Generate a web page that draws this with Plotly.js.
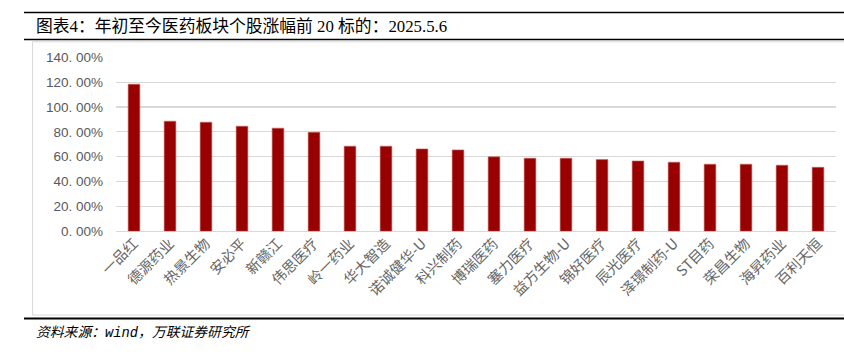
<!DOCTYPE html>
<html>
<head>
<meta charset="utf-8">
<script src="https://cdn.plot.ly/plotly-3.0.1.min.js"></script>
<style>html,body{margin:0;padding:0;background:#fff;}#chart{width:844px;height:357px;}</style>
</head>
<body>
<div id="chart"></div>
<script>
const categories = ["一品红","德源药业","热景生物","安必平","新赣江","伟思医疗","岭一药业","华大智造","诺诚健华-U","科兴制药","博瑞医药","塞力医疗","益方生物-U","锦好医疗","辰光医疗","泽璟制药-U","ST目药","荣昌生物","海昇药业","百利天恒"];
const gains = [118.4, 88.6, 87.8, 84.6, 83.0, 79.7, 68.5, 68.5, 66.3, 65.5, 59.9, 58.8, 58.8, 57.7, 56.6, 55.6, 54.0, 54.0, 53.2, 51.5];
const yTickVals = [0, 20, 40, 60, 80, 100, 120, 140];
const yTickText = ["0. 00%","20. 00%","40. 00%","60. 00%","80. 00%","100. 00%","120. 00%","140. 00%"];
const titleText = "图表4：年初至今医药板块个股涨幅前 20 标的：2025.5.6";
const sourceText = "资料来源：wind，万联证券研究所";

const W = 844, H = 357;
const px = x => x / W;
const py = y => 1 - y / H;

const trace = {
  type: 'bar',
  x: categories,
  y: gains,
  marker: {color: '#990000', line: {color: '#c46a6a', width: 0.6}},
  hoverinfo: 'skip'
};

const layout = {
  width: W, height: H,
  margin: {l: 0, r: 0, t: 0, b: 0},
  paper_bgcolor: '#fff', plot_bgcolor: '#fff',
  showlegend: false,
  bargap: 0.675,
  font: {family: '"Noto Sans CJK SC", "Liberation Sans", sans-serif', color: '#595959'},
  xaxis: {
    domain: [px(116), px(836)],
    automargin: false,
    tickangle: -45,
    tickfont: {size: 14.5, color: '#666666', family: '"Noto Sans CJK SC", sans-serif'},
    showgrid: false, zeroline: false, showline: false, ticks: ''
  },
  yaxis: {
    domain: [py(231.3), py(57.3)],
    automargin: false,
    range: [0, 140],
    tickvals: yTickVals,
    ticktext: yTickText,
    tickfont: {size: 13.5, color: '#595959', family: '"Liberation Sans", "Noto Sans CJK SC", sans-serif'},
    showgrid: true, gridcolor: '#d9d9d9', gridwidth: 1.2,
    zeroline: true, zerolinecolor: '#d9d9d9', zerolinewidth: 1.2,
    showline: false, ticks: '', ticklabelstandoff: 12
  },
  shapes: [
    {type: 'line', xref: 'paper', yref: 'paper', x0: px(24), x1: px(844), y0: py(12.5), y1: py(12.5), line: {color: '#000', width: 1.6}},
    {type: 'line', xref: 'paper', yref: 'paper', x0: px(24), x1: px(844), y0: py(39.5), y1: py(39.5), line: {color: '#000', width: 1.6}},
    {type: 'rect', xref: 'paper', yref: 'paper', x0: px(32.5), x1: px(850), y0: py(315), y1: py(41.8), line: {color: '#d9d9d9', width: 1}, fillcolor: 'rgba(0,0,0,0)'},
    {type: 'line', xref: 'paper', yref: 'paper', x0: px(24), x1: px(844), y0: py(318.5), y1: py(318.5), line: {color: '#000', width: 2}}
  ],
  annotations: [
    {xref: 'paper', yref: 'paper', x: px(34), y: py(26.5), xanchor: 'left', yanchor: 'middle', showarrow: false,
     text: titleText, font: {size: 16.8, color: '#000', family: '"Liberation Serif", "Noto Sans CJK SC", serif'}},
    {xref: 'paper', yref: 'paper', x: px(34), y: py(333), xanchor: 'left', yanchor: 'middle', showarrow: false,
     text: '<i>' + sourceText + '</i>', font: {size: 13.8, color: '#000', family: '"Liberation Mono", "Noto Sans CJK SC", serif'}}
  ]
};

Plotly.newPlot('chart', [trace], layout, {staticPlot: true, displayModeBar: false});
</script>
</body>
</html>
